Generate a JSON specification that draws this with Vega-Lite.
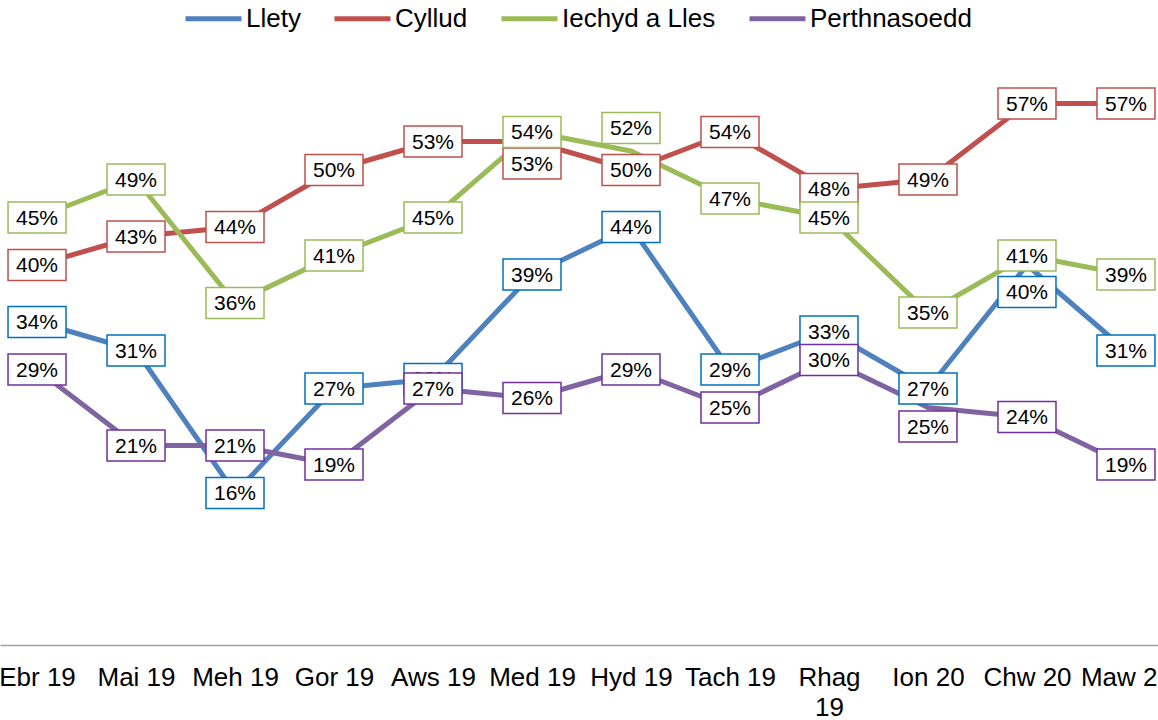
{
  "$schema": "https://vega.github.io/schema/vega-lite/v6.json",
  "autosize": "none",
  "width": 1163,
  "height": 570,
  "padding": {"left": 0, "top": 75, "right": 0, "bottom": 75},
  "background": "white",
  "config": {
    "view": {"stroke": null},
    "font": "Liberation Sans"
  },
  "data": {
    "values": [
      {"month": "Ebr 19", "series": "Llety", "value": 0.34},
      {"month": "Mai 19", "series": "Llety", "value": 0.31},
      {"month": "Meh 19", "series": "Llety", "value": 0.16},
      {"month": "Gor 19", "series": "Llety", "value": 0.27},
      {"month": "Aws 19", "series": "Llety", "value": 0.28},
      {"month": "Med 19", "series": "Llety", "value": 0.39},
      {"month": "Hyd 19", "series": "Llety", "value": 0.44},
      {"month": "Tach 19", "series": "Llety", "value": 0.29},
      {"month": "Rhag 19", "series": "Llety", "value": 0.33},
      {"month": "Ion 20", "series": "Llety", "value": 0.27},
      {"month": "Chw 20", "series": "Llety", "value": 0.40},
      {"month": "Maw 20", "series": "Llety", "value": 0.31},
      {"month": "Ebr 19", "series": "Cyllud", "value": 0.40},
      {"month": "Mai 19", "series": "Cyllud", "value": 0.43},
      {"month": "Meh 19", "series": "Cyllud", "value": 0.44},
      {"month": "Gor 19", "series": "Cyllud", "value": 0.50},
      {"month": "Aws 19", "series": "Cyllud", "value": 0.53},
      {"month": "Med 19", "series": "Cyllud", "value": 0.53},
      {"month": "Hyd 19", "series": "Cyllud", "value": 0.50},
      {"month": "Tach 19", "series": "Cyllud", "value": 0.54},
      {"month": "Rhag 19", "series": "Cyllud", "value": 0.48},
      {"month": "Ion 20", "series": "Cyllud", "value": 0.49},
      {"month": "Chw 20", "series": "Cyllud", "value": 0.57},
      {"month": "Maw 20", "series": "Cyllud", "value": 0.57},
      {"month": "Ebr 19", "series": "Iechyd a Lles", "value": 0.45},
      {"month": "Mai 19", "series": "Iechyd a Lles", "value": 0.49},
      {"month": "Meh 19", "series": "Iechyd a Lles", "value": 0.36},
      {"month": "Gor 19", "series": "Iechyd a Lles", "value": 0.41},
      {"month": "Aws 19", "series": "Iechyd a Lles", "value": 0.45},
      {"month": "Med 19", "series": "Iechyd a Lles", "value": 0.54},
      {"month": "Hyd 19", "series": "Iechyd a Lles", "value": 0.52},
      {"month": "Tach 19", "series": "Iechyd a Lles", "value": 0.47},
      {"month": "Rhag 19", "series": "Iechyd a Lles", "value": 0.45},
      {"month": "Ion 20", "series": "Iechyd a Lles", "value": 0.35},
      {"month": "Chw 20", "series": "Iechyd a Lles", "value": 0.41},
      {"month": "Maw 20", "series": "Iechyd a Lles", "value": 0.39},
      {"month": "Ebr 19", "series": "Perthnasoedd", "value": 0.29},
      {"month": "Mai 19", "series": "Perthnasoedd", "value": 0.21},
      {"month": "Meh 19", "series": "Perthnasoedd", "value": 0.21},
      {"month": "Gor 19", "series": "Perthnasoedd", "value": 0.19},
      {"month": "Aws 19", "series": "Perthnasoedd", "value": 0.27},
      {"month": "Med 19", "series": "Perthnasoedd", "value": 0.26},
      {"month": "Hyd 19", "series": "Perthnasoedd", "value": 0.29},
      {"month": "Tach 19", "series": "Perthnasoedd", "value": 0.25},
      {"month": "Rhag 19", "series": "Perthnasoedd", "value": 0.30},
      {"month": "Ion 20", "series": "Perthnasoedd", "value": 0.25},
      {"month": "Chw 20", "series": "Perthnasoedd", "value": 0.24},
      {"month": "Maw 20", "series": "Perthnasoedd", "value": 0.19}
    ]
  },
  "encoding": {
    "x": {
      "field": "month",
      "type": "ordinal",
      "sort": ["Ebr 19", "Mai 19", "Meh 19", "Gor 19", "Aws 19", "Med 19", "Hyd 19", "Tach 19", "Rhag 19", "Ion 20", "Chw 20", "Maw 20"],
      "scale": {"type": "point", "padding": 0.374},
      "axis": {
        "title": null,
        "labelAngle": 0,
        "ticks": false,
        "grid": false,
        "domainColor": "#a0a0a0",
        "domainWidth": 1.5,
        "labelFont": "Liberation Sans",
        "labelFontSize": 26,
        "labelColor": "#000000",
        "labelPadding": 19,
        "labelOverlap": false,
        "labelLineHeight": 30,
        "labelExpr": "datum.value == 'Rhag 19' ? ['Rhag', '19'] : datum.label"
      }
    },
    "y": {
      "field": "value",
      "type": "quantitative",
      "scale": {"domain": [0, 0.6], "nice": false, "zero": true},
      "axis": null
    }
  },
  "layer": [
    {
      "mark": {"type": "line", "strokeWidth": 5, "strokeJoin": "round"},
      "encoding": {
        "color": {
          "field": "series",
          "type": "nominal",
          "scale": {
            "domain": ["Llety", "Cyllud", "Iechyd a Lles", "Perthnasoedd"],
            "range": ["#4F81BD", "#C0504D", "#9BBB59", "#8064A2"]
          },
          "legend": {
            "title": null,
            "orient": "none",
            "direction": "horizontal",
            "columns": 4,
            "legendX": 183,
            "legendY": -87,
            "padding": 0,
            "symbolType": "M-1,0H1",
            "symbolSize": 3136,
            "symbolStrokeWidth": 5,
            "labelFont": "Liberation Sans",
            "labelFontSize": 26,
            "labelColor": "#000000",
            "labelOffset": 2,
            "labelLimit": 400,
            "columnPadding": 23
          }
        }
      }
    },
    {
      "transform": [{"filter": "datum.series == 'Llety' && datum.month != 'Chw 20'"}],
      "layer": [
        {"mark": {"type": "point", "shape": "M-1,-0.534H1V0.534H-1Z", "size": 3364, "filled": false, "fill": "white", "fillOpacity": 1, "opacity": 1, "stroke": "#0070C0", "strokeWidth": 1.5}},
        {"mark": {"type": "text", "font": "Liberation Sans", "fontSize": 21, "color": "#000000", "dy": 1}, "encoding": {"text": {"field": "value", "format": ".0%"}}}
      ]
    },
    {
      "transform": [{"filter": "datum.series == 'Llety' && datum.month == 'Chw 20'"}],
      "layer": [
        {"mark": {"type": "point", "shape": "M-1,-0.534H1V0.534H-1Z", "size": 3364, "filled": false, "fill": "white", "fillOpacity": 1, "opacity": 1, "stroke": "#0070C0", "strokeWidth": 1.5, "yOffset": 27}},
        {"mark": {"type": "text", "font": "Liberation Sans", "fontSize": 21, "color": "#000000", "dy": 1, "yOffset": 27}, "encoding": {"text": {"field": "value", "format": ".0%"}}}
      ]
    },
    {
      "transform": [{"filter": "datum.series == 'Cyllud' && datum.month != 'Med 19'"}],
      "layer": [
        {"mark": {"type": "point", "shape": "M-1,-0.534H1V0.534H-1Z", "size": 3364, "filled": false, "fill": "white", "fillOpacity": 1, "opacity": 1, "stroke": "#C0504D", "strokeWidth": 1.5}},
        {"mark": {"type": "text", "font": "Liberation Sans", "fontSize": 21, "color": "#000000", "dy": 1}, "encoding": {"text": {"field": "value", "format": ".0%"}}}
      ]
    },
    {
      "transform": [{"filter": "datum.series == 'Cyllud' && datum.month == 'Med 19'"}],
      "layer": [
        {"mark": {"type": "point", "shape": "M-1,-0.534H1V0.534H-1Z", "size": 3364, "filled": false, "fill": "white", "fillOpacity": 1, "opacity": 1, "stroke": "#C0504D", "strokeWidth": 1.5, "yOffset": 22}},
        {"mark": {"type": "text", "font": "Liberation Sans", "fontSize": 21, "color": "#000000", "dy": 1, "yOffset": 22}, "encoding": {"text": {"field": "value", "format": ".0%"}}}
      ]
    },
    {
      "transform": [{"filter": "datum.series == 'Iechyd a Lles' && datum.month != 'Hyd 19'"}],
      "layer": [
        {"mark": {"type": "point", "shape": "M-1,-0.534H1V0.534H-1Z", "size": 3364, "filled": false, "fill": "white", "fillOpacity": 1, "opacity": 1, "stroke": "#9BBB59", "strokeWidth": 1.5}},
        {"mark": {"type": "text", "font": "Liberation Sans", "fontSize": 21, "color": "#000000", "dy": 1}, "encoding": {"text": {"field": "value", "format": ".0%"}}}
      ]
    },
    {
      "transform": [{"filter": "datum.series == 'Iechyd a Lles' && datum.month == 'Hyd 19'"}],
      "layer": [
        {"mark": {"type": "point", "shape": "M-1,-0.534H1V0.534H-1Z", "size": 3364, "filled": false, "fill": "white", "fillOpacity": 1, "opacity": 1, "stroke": "#9BBB59", "strokeWidth": 1.5, "yOffset": -23}},
        {"mark": {"type": "text", "font": "Liberation Sans", "fontSize": 21, "color": "#000000", "dy": 1, "yOffset": -23}, "encoding": {"text": {"field": "value", "format": ".0%"}}}
      ]
    },
    {
      "transform": [{"filter": "datum.series == 'Perthnasoedd' && datum.month != 'Ion 20'"}],
      "layer": [
        {"mark": {"type": "point", "shape": "M-1,-0.534H1V0.534H-1Z", "size": 3364, "filled": false, "fill": "white", "fillOpacity": 1, "opacity": 1, "stroke": "#7030A0", "strokeWidth": 1.5}},
        {"mark": {"type": "text", "font": "Liberation Sans", "fontSize": 21, "color": "#000000", "dy": 1}, "encoding": {"text": {"field": "value", "format": ".0%"}}}
      ]
    },
    {
      "transform": [{"filter": "datum.series == 'Perthnasoedd' && datum.month == 'Ion 20'"}],
      "layer": [
        {"mark": {"type": "point", "shape": "M-1,-0.534H1V0.534H-1Z", "size": 3364, "filled": false, "fill": "white", "fillOpacity": 1, "opacity": 1, "stroke": "#7030A0", "strokeWidth": 1.5, "yOffset": 19}},
        {"mark": {"type": "text", "font": "Liberation Sans", "fontSize": 21, "color": "#000000", "dy": 1, "yOffset": 19}, "encoding": {"text": {"field": "value", "format": ".0%"}}}
      ]
    }
  ]
}
